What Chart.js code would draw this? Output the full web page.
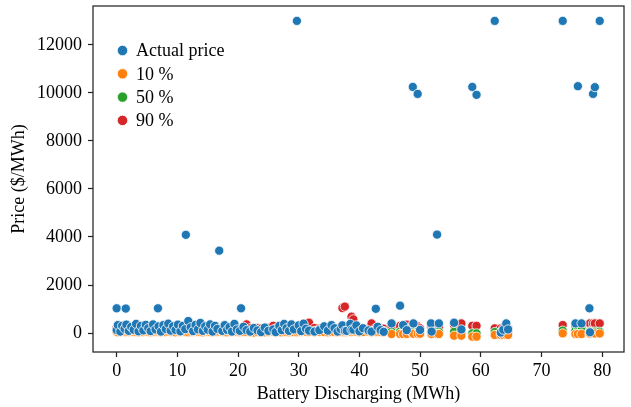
<!DOCTYPE html>
<html>
<head>
<meta charset="utf-8">
<title>Price vs battery discharging</title>
<script src="https://cdn.jsdelivr.net/npm/chart.js@4/dist/chart.umd.min.js"></script>
<style>
  html, body { margin: 0; padding: 0; background: #ffffff; }
  canvas { display: block; }
</style>
</head>
<body>
<canvas id="chart" width="631" height="407"></canvas>
<script>
// Each observation: battery discharging (MWh), actual price and the 10/50/90 % quantile forecasts ($/MWh)
const discharging = [
  0.0, 0.0, 0.2, 0.6, 0.9, 1.3, 1.5, 1.6, 2.0, 2.4,
  2.8, 3.2, 3.6, 4.0, 4.4, 4.8, 5.2, 5.6, 6.0, 6.4,
  6.8, 6.9, 7.3, 7.7, 8.1, 8.5, 8.9, 9.3, 9.7, 10.1,
  10.5, 10.9, 11.3, 11.4, 11.8, 12.2, 12.6, 13.0, 13.4, 13.8,
  14.2, 14.6, 15.0, 15.4, 15.8, 16.2, 16.6, 16.9, 17.4, 17.8,
  18.2, 18.6, 19.0, 19.4, 19.8, 20.3, 20.5, 20.9, 21.4, 22.0,
  22.6, 23.2, 23.8, 24.4, 25.0, 25.8, 26.2, 26.8, 27.2, 27.6,
  28.0, 28.4, 28.8, 29.2, 29.7, 30.0, 30.4, 30.8, 31.2, 31.7,
  32.6, 33.4, 34.2, 34.8, 35.4, 35.9, 36.4, 36.9, 37.2, 37.6,
  37.9, 38.5, 38.7, 39.0, 39.5, 40.0, 40.6, 41.5, 42.0, 42.7,
  43.0, 43.5, 44.0,
  45.3, 46.7, 47.2, 47.8, 48.8, 48.9, 49.6, 50.0, 51.8, 51.9,
  52.8, 53.1, 55.6, 56.8, 58.6, 59.3, 62.3, 63.3, 63.7, 64.2,
  64.5, 73.5, 75.6, 76.0, 76.6, 77.9, 78.0, 78.5, 78.8, 79.6
];

const actualPrice = [
  1030, 125, 330, 60, 300, 180, 1020, 350, 90, 260,
  140, 380, 70, 300, 110, 340, 200, 80, 360, 150,
  1030, 280, 60, 330, 170, 390, 100, 280, 130, 350,
  70, 300, 160, 4090, 500, 240, 80, 340, 150, 420,
  90, 280, 140, 360, 60, 300, 170, 3430, 90, 330,
  130, 250, 60, 380, 150, 90, 1030, 260, 120, 60,
  210, 110, 40, 230, 90, 150, 40, 300, 120, 380,
  200, 90, 360, 150, 13000, 320, 80, 390, 180, 100,
  60, 120, 280, 100, 330, 200, 60, 170, 320, 90,
  90, 380, 140, 140, 320, 70, 200, 110, 60, 1010,
  260, 120, 50,
  400, 1140, 330, 120, 10250, 400, 9960, 130, 400, 60,
  4100, 400, 430, 150, 10250, 9920, 13000, 20, 140, 400,
  150, 13000, 400, 10280, 400, 1030, 30, 9960, 10240, 13000
];

const q10 = [
  40, 50, 30, 40, 50, 40, 30, 50, 40, 60,
  50, 40, 30, 50, 40, 60, 50, 30, 40, 50,
  40, 60, 30, 50, 40, 60, 50, 40, 30, 50,
  40, 60, 50, 40, 30, 50, 40, 60, 50, 40,
  30, 50, 60, 40, 30, 50, 40, 60, 50, 40,
  30, 50, 40, 60, 50, 30, 40, 50, 40, 30,
  20, 40, 20, 30, 40, 50, 20, 40, 30, 50,
  40, 30, 50, 40, 30, 50, 40, 60, 50, 40,
  30, 50, 40, 30, 50, 40, 30, 50, 40, 30,
  40, 50, 40, 60, 50, 30, 40, 50, 30, 40,
  50, 40, 30,
  -40, -40, -40, -40, -30, -30, -30, -30, -40, -40,
  -40, -40, -110, -110, -150, -150, -80, -80, -80, -80,
  -80, -15, -40, -40, -40, -30, -30, -20, -20, -20
];

const q50 = [
  90, 100, 80, 110, 90, 100, 80, 90, 100, 90,
  110, 80, 100, 90, 110, 80, 100, 90, 110, 80,
  100, 90, 110, 80, 100, 90, 80, 110, 100, 90,
  80, 100, 110, 90, 80, 100, 90, 110, 80, 100,
  90, 110, 80, 100, 90, 80, 110, 100, 90, 80,
  100, 110, 90, 80, 100, 90, 110, 80, 100, 90,
  70, 100, 60, 90, 80, 100, 60, 90, 80, 100,
  90, 110, 80, 100, 90, 80, 110, 100, 90, 80,
  90, 110, 90, 80, 100, 90, 80, 90, 100, 90,
  80, 110, 100, 90, 80, 100, 110, 90, 80, 100,
  90, 110, 80,
  55, 55, 55, 55, 60, 60, 60, 60, 55, 55,
  55, 55, 55, 55, -15, -15, 40, 40, 40, 40,
  40, 100, 100, 100, 100, 60, 60, 55, 55, 55
];

const q90 = [
  200, 210, 180, 220, 190, 200, 210, 180, 220, 200,
  190, 210, 180, 200, 220, 190, 210, 200, 180, 220,
  200, 190, 210, 180, 220, 200, 190, 210, 180, 200,
  220, 190, 210, 200, 180, 220, 200, 190, 210, 180,
  200, 220, 190, 210, 200, 180, 220, 200, 190, 210,
  180, 200, 220, 190, 210, 200, 180, 220, 360, 200,
  190, 210, 180, 200, 220, 300, 190, 210, 200, 180,
  220, 200, 190, 210, 200, 180, 220, 200, 190, 430,
  210, 180, 200, 220, 190, 210, 200, 180, 1040, 1100,
  200, 220, 680, 570, 190, 210, 200, 180, 400, 210,
  200, 190, 180,
  250, 300, 320, 350, 330, 300, 280, 200, 265, 265,
  265, 250, 330, 400, 300, 300, 195, 195, 195, 195,
  195, 333, 300, 300, 300, 400, 400, 400, 400, 400
];

const seriesLabels = ['Actual price', '10 %', '50 %', '90 %'];
const seriesColors = ['#1f77b4', '#ff7f0e', '#2ca02c', '#d62728'];
const seriesValues = [actualPrice, q10, q50, q90];

const xTicks = [0, 10, 20, 30, 40, 50, 60, 70, 80];
const yTicks = [0, 2000, 4000, 6000, 8000, 10000, 12000];

const FONT = '"Liberation Serif", "Times New Roman", serif';
const AXIS_COLOR = '#262626';

Chart.defaults.font.family = FONT;
Chart.defaults.font.size = 18;
Chart.defaults.color = '#000000';

// Axes box drawn on top of the markers
const frame = {
  id: 'frame',
  afterDatasetsDraw(chart) {
    const { ctx, chartArea: a } = chart;
    ctx.save();
    ctx.strokeStyle = AXIS_COLOR;
    ctx.lineWidth = 1.25;
    ctx.strokeRect(a.left, a.top, a.right - a.left, a.bottom - a.top);
    ctx.restore();
  }
};

// Legend placed inside the plotting area, upper left
const innerLegend = {
  id: 'innerLegend',
  afterDraw(chart) {
    const { ctx } = chart;
    const x0 = 122.5, y0 = 50.5, step = 23.3;
    ctx.save();
    ctx.font = '18px ' + FONT;
    ctx.textBaseline = 'middle';
    ctx.textAlign = 'left';
    chart.data.datasets.forEach((ds, i) => {
      const y = y0 + i * step;
      ctx.beginPath();
      ctx.arc(x0, y, 5.2, 0, Math.PI * 2);
      ctx.fillStyle = ds.backgroundColor;
      ctx.fill();
      ctx.lineWidth = 0.8;
      ctx.strokeStyle = '#ffffff';
      ctx.stroke();
      ctx.fillStyle = '#000000';
      ctx.fillText(ds.label, 136, y + 1);
    });
    ctx.restore();
  }
};

const datasets = seriesLabels.map((label, s) => ({
  label,
  data: discharging.map((x, i) => ({ x, y: seriesValues[s][i] })),
  backgroundColor: seriesColors[s],
  borderColor: '#ffffff',
  borderWidth: 0.8,
  pointRadius: 4.6,
  pointHoverRadius: 4.6
}));

new Chart(document.getElementById('chart'), {
  type: 'scatter',
  data: { datasets },
  options: {
    responsive: false,
    animation: false,
    events: [],
    layout: { padding: { top: 6, right: 7, left: 0, bottom: 0 } },
    plugins: { legend: { display: false }, tooltip: { enabled: false } },
    scales: {
      x: {
        type: 'linear',
        min: -3.9,
        max: 83.6,
        afterBuildTicks: s => { s.ticks = xTicks.map(v => ({ value: v })); },
        afterFit: s => { s.height = 55; s.paddingLeft = 0; s.paddingRight = 0; },
        ticks: { color: '#000000', padding: 3, maxRotation: 0, autoSkip: false, callback: v => String(v) },
        grid: { display: true, drawOnChartArea: false, drawTicks: true, tickLength: 5, tickColor: AXIS_COLOR, tickWidth: 1.25 },
        border: { display: false },
        title: { display: true, text: 'Battery Discharging (MWh)', color: '#000000', padding: { top: 0, bottom: 2 } }
      },
      y: {
        type: 'linear',
        min: -790,
        max: 13620,
        afterBuildTicks: s => { s.ticks = yTicks.map(v => ({ value: v })); },
        afterFit: s => { s.width = 93; s.paddingTop = 0; s.paddingBottom = 0; },
        ticks: { color: '#000000', padding: 6, autoSkip: false, callback: v => String(v) },
        grid: { display: true, drawOnChartArea: false, drawTicks: true, tickLength: 5, tickColor: AXIS_COLOR, tickWidth: 1.25 },
        border: { display: false },
        title: { display: true, text: 'Price ($/MWh)', color: '#000000', padding: { top: 8, bottom: 0 } }
      }
    }
  },
  plugins: [frame, innerLegend]
});
</script>
</body>
</html>
